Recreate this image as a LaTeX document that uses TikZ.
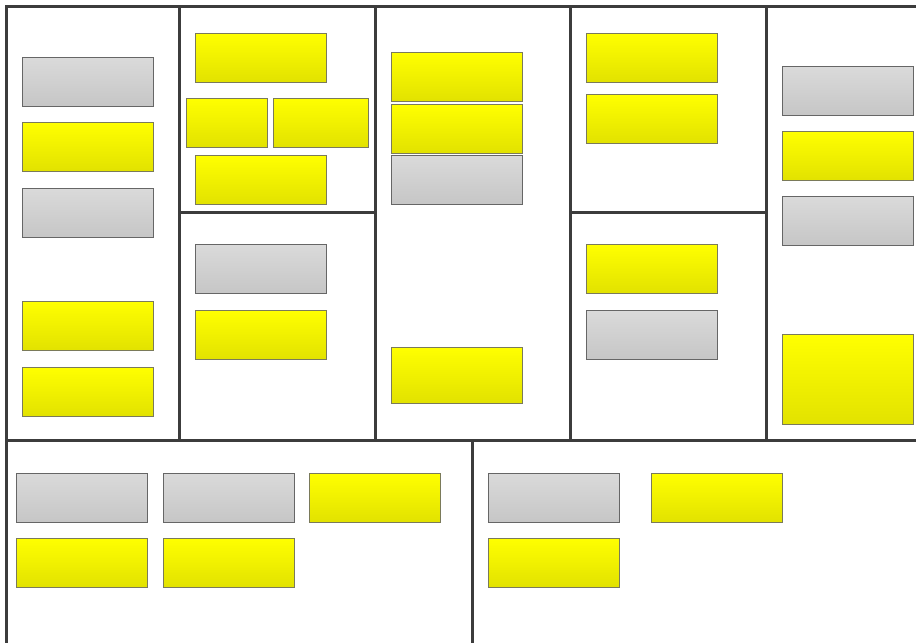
\documentclass[tikz,border=0pt]{standalone}
\usetikzlibrary{positioning}
\definecolor{frame}{HTML}{3C3C3C}
\definecolor{yeltop}{HTML}{FFFF00}
\definecolor{yelbot}{HTML}{E2E200}
\definecolor{grytop}{HTML}{DADADA}
\definecolor{grybot}{HTML}{C6C6C6}
\definecolor{noteedge}{HTML}{7A7A5A}
\begin{document}
\begin{tikzpicture}[
  x=1pt, y=-1pt,
  note/.style={rectangle, anchor=north west, inner sep=0pt, draw=noteedge, line width=0.6pt,
    minimum width=131pt, minimum height=49pt},
  yel/.style={note, top color=yeltop, bottom color=yelbot},
  gry/.style={note, draw=gray!80!black, top color=grytop, bottom color=grybot},
  border/.style={draw=frame, line width=3pt}
]
  \useasboundingbox (0,0) rectangle (916,643);
  % canvas frame
  \coordinate (tl) at (6,6);
  \coordinate (tr) at (916,6);
  \coordinate (bl) at (6,643);
  \coordinate (ml) at (6,440);
  \coordinate (mr) at (916,440);
  \draw[border] (tr) -- (tl) -- (bl);
  \draw[border] (ml) -- (mr);
  \draw[border] (179,6) -- (179,440);
  \draw[border] (375,6) -- (375,440);
  \draw[border] (570,6) -- (570,440);
  \draw[border] (766,6) -- (766,440);
  \draw[border] (179,212) -- (375,212);
  \draw[border] (570,212) -- (766,212);
  \draw[border] (472,440) -- (472,643);

  % column 1
  \node[gry] (ka) at (22,57) {};
  \node[yel] (kb) at (22,122) {};
  \node[gry] (kc) at (22,188) {};
  \node[yel] (kd) at (22,301) {};
  \node[yel] (ke) at (22,367) {};
  % column 2, top
  \node[yel] (aa) at (195,33) {};
  \node[yel, minimum width=81pt] (ab) at (186,98) {};
  \node[yel, minimum width=95pt] (ac) at (273,98) {};
  \node[yel] (ad) at (195,155) {};
  % column 2, bottom
  \node[gry] (ra) at (195,244) {};
  \node[yel] (rb) at (195,310) {};
  % column 3
  \node[yel] (va) at (391,52) {};
  \node[yel] (vb) at (391,104) {};
  \node[gry] (vc) at (391,155) {};
  \node[yel, minimum height=56pt] (vd) at (391,347) {};
  % column 4, top
  \node[yel] (ca) at (586,33) {};
  \node[yel] (cb) at (586,94) {};
  % column 4, bottom
  \node[yel] (ha) at (586,244) {};
  \node[gry] (hb) at (586,310) {};
  % column 5
  \node[gry] (sa) at (782,66) {};
  \node[yel] (sb) at (782,131) {};
  \node[gry] (sc) at (782,196) {};
  \node[yel, minimum height=90pt] (sd) at (782,334) {};
  % costs
  \node[gry] (ta) at (16,473) {};
  \node[gry] (tb) at (163,473) {};
  \node[yel] (tc) at (309,473) {};
  \node[yel] (td) at (16,538) {};
  \node[yel] (te) at (163,538) {};
  % revenue
  \node[gry] (ea) at (488,473) {};
  \node[yel] (eb) at (651,473) {};
  \node[yel] (ec) at (488,538) {};
\end{tikzpicture}
\end{document}
